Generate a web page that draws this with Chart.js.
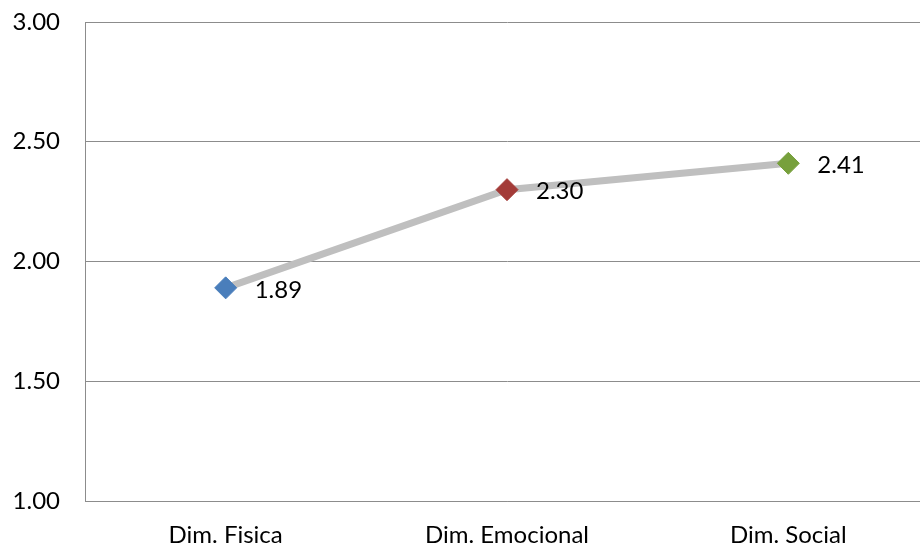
<!DOCTYPE html>
<html>
<head>
<meta charset="utf-8">
<script src="https://cdn.jsdelivr.net/npm/chart.js@4.4.1/dist/chart.umd.min.js"></script>
<style>
  html, body { margin: 0; padding: 0; background: #ffffff; overflow: hidden; }
  #wrap { width: 920px; height: 549px; overflow: hidden; position: relative; }
  canvas { display: block; }
</style>
</head>
<body>
<div id="wrap"><canvas id="chart" width="941" height="549"></canvas></div>
<script>
// Mean score per dimension
const categories = ['Dim. Fisica', 'Dim. Emocional', 'Dim. Social'];
const scores = [1.89, 2.30, 2.41];
const pointColors = ['#4a7ebb', '#a33b38', '#77a03c'];
const yTicks = [1.00, 1.50, 2.00, 2.50, 3.00];

const FONT = 'Lato, "Open Sans", sans-serif';
const GRID = '#8c8c8c';

// Writes each value to the right of its marker
const valueLabels = {
  id: 'valueLabels',
  afterDatasetsDraw(chart) {
    const ctx = chart.ctx;
    const meta = chart.getDatasetMeta(0);
    ctx.save();
    ctx.font = '24px ' + FONT;
    ctx.fillStyle = '#000000';
    ctx.textAlign = 'left';
    ctx.textBaseline = 'middle';
    meta.data.forEach((pt, i) => {
      ctx.fillText(scores[i].toFixed(2), pt.x + 29, pt.y + 2);
    });
    ctx.restore();
  }
};

new Chart(document.getElementById('chart'), {
  type: 'line',
  data: {
    labels: categories,
    datasets: [{
      data: scores,
      borderColor: '#bfbfbf',
      borderWidth: 7,
      tension: 0,
      pointStyle: 'rectRot',
      pointRadius: 11,
      pointHoverRadius: 11,
      pointBorderWidth: 1,
      pointBackgroundColor: pointColors,
      pointBorderColor: pointColors
    }]
  },
  options: {
    responsive: false,
    animation: false,
    events: [],
    layout: { padding: { top: 22, right: 0, bottom: 0, left: 0 } },
    plugins: { legend: { display: false }, tooltip: { enabled: false } },
    scales: {
      x: {
        type: 'category',
        offset: true,
        afterFit(scale) {
          scale.height = 48;
          scale.paddingLeft = 0; scale.paddingRight = 0;
          scale.paddingTop = 0; scale.paddingBottom = 0;
        },
        grid: { display: false, drawTicks: false },
        border: { display: true, color: GRID, width: 1 },
        ticks: { color: '#000000', font: { family: FONT, size: 24 }, padding: 20, maxRotation: 0 }
      },
      y: {
        min: 1,
        max: 3,
        afterFit(scale) {
          scale.width = 85;
          scale.paddingLeft = 0; scale.paddingRight = 0;
          scale.paddingTop = 0; scale.paddingBottom = 0;
        },
        afterBuildTicks(scale) { scale.ticks = yTicks.map(v => ({ value: v })); },
        grid: { color: GRID, lineWidth: 1, drawTicks: false },
        border: { display: true, color: GRID, width: 1 },
        ticks: {
          color: '#000000',
          font: { family: FONT, size: 24 },
          padding: 25,
          callback: v => Number(v).toFixed(2)
        }
      }
    }
  },
  plugins: [valueLabels]
});
</script>
</body>
</html>
